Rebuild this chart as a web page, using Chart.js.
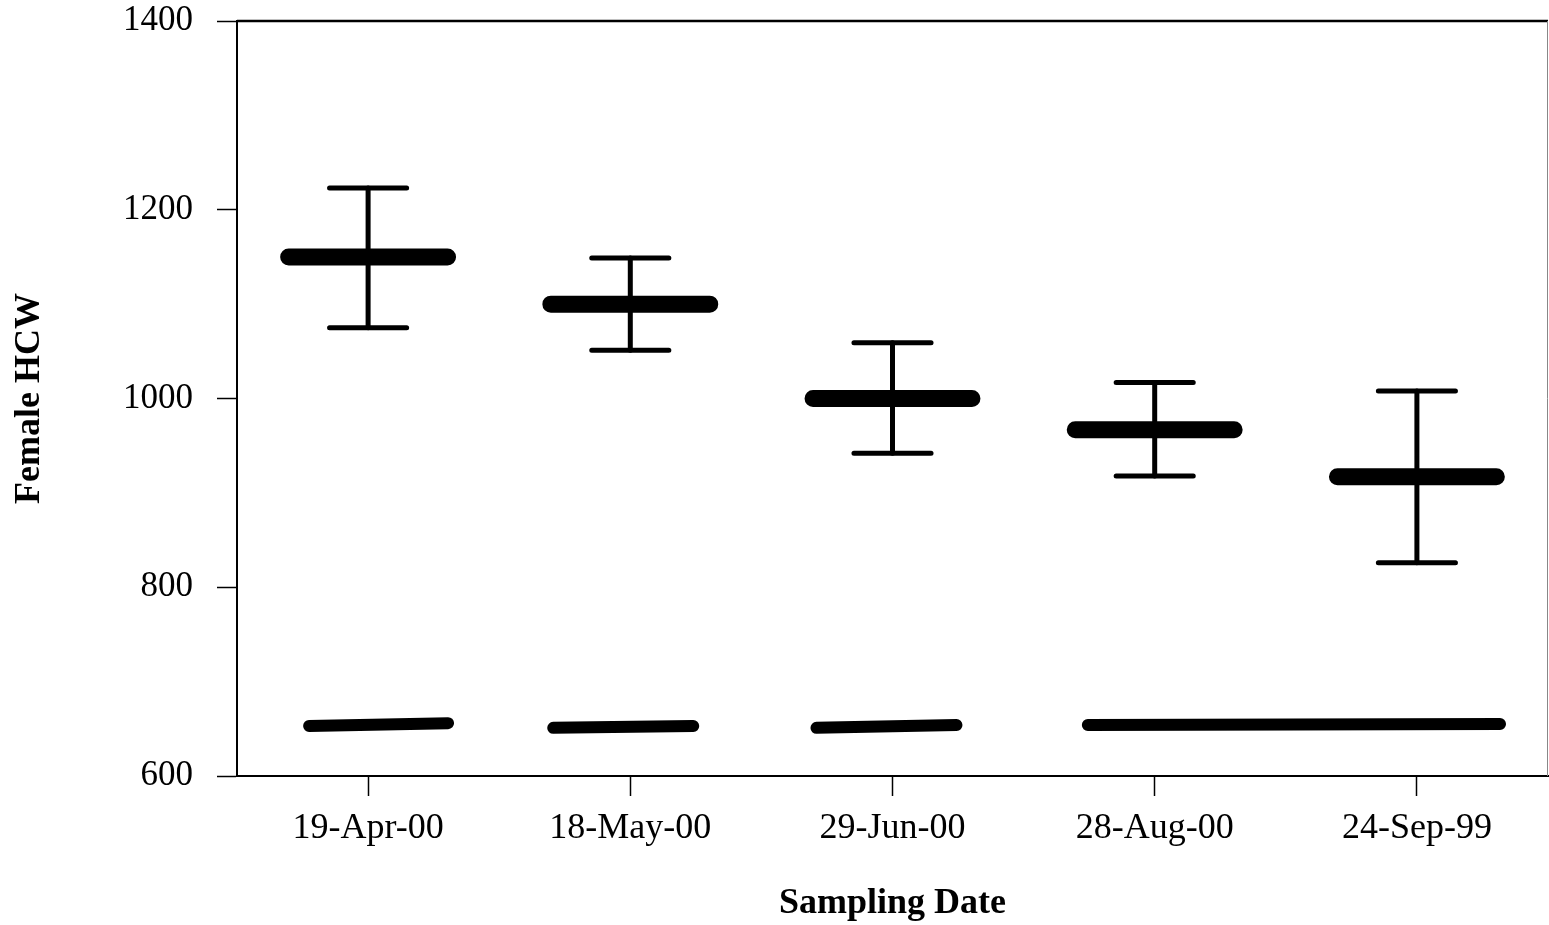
<!DOCTYPE html>
<html>
<head>
<meta charset="utf-8">
<script src="https://cdn.jsdelivr.net/npm/chart.js@4"></script>
<style>
  body { margin: 0; background: #fff; }
  #wrap { width: 1549px; height: 925px; }
</style>
</head>
<body>
<div id="wrap"><canvas id="hcw-chart"></canvas></div>
<script>
var dates = ['19-Apr-00', '18-May-00', '29-Jun-00', '28-Aug-00', '24-Sep-99'];
var meanHCW = [1150, 1100, 1000, 967, 917];
var upperHCW = [1223, 1149, 1059, 1017, 1008];
var lowerHCW = [1075, 1051, 942, 918, 826];
var yTicks = [600, 800, 1000, 1200, 1400];

// grouping lines along the bottom: start/end in category units (1 = first date) and their values
var groupStart = [0.775, 1.706, 2.71, 3.745];
var groupEnd = [1.305, 2.24, 3.244, 5.317];
var groupStartY = [653, 651, 651, 654];
var groupEndY = [656, 653, 654, 655];

var serif = 'Liberation Serif, Times New Roman, serif';

// build broken line data (null between pieces)
function pieces(list) {
    var out = [];
    list.forEach(function (p) {
        out.push(p[0], p[1], { x: p[1].x, y: null });
    });
    return out;
}

var meanPts = pieces(meanHCW.map(function (v, i) {
    return [{ x: i + 1 - 0.303, y: v }, { x: i + 1 + 0.303, y: v }];
}));
var stemPts = pieces(meanHCW.map(function (v, i) {
    return [{ x: i + 1, y: lowerHCW[i] }, { x: i + 1, y: upperHCW[i] }];
}));
var capPts = pieces(meanHCW.map(function (v, i) {
    return [{ x: i + 1 - 0.147, y: upperHCW[i] }, { x: i + 1 + 0.147, y: upperHCW[i] }];
}).concat(meanHCW.map(function (v, i) {
    return [{ x: i + 1 - 0.147, y: lowerHCW[i] }, { x: i + 1 + 0.147, y: lowerHCW[i] }];
})));
var groupPts = pieces(groupStart.map(function (s, i) {
    return [{ x: s, y: groupStartY[i] }, { x: groupEnd[i], y: groupEndY[i] }];
}));

function lineSet(pts, width) {
    return {
        data: pts,
        borderColor: '#000',
        borderWidth: width,
        borderCapStyle: 'round',
        pointRadius: 0,
        spanGaps: false,
        fill: false
    };
}

var frame = {
    id: 'frame',
    afterDraw: function (chart) {
        var a = chart.chartArea, c = chart.ctx;
        c.save();
        c.strokeStyle = '#000';
        c.lineWidth = 2.5;
        c.beginPath();
        c.moveTo(a.left, a.top);
        c.lineTo(a.right, a.top);
        c.stroke();
        c.strokeStyle = '#888';
        c.lineWidth = 1;
        c.beginPath();
        c.moveTo(a.right - 0.5, a.top);
        c.lineTo(a.right - 0.5, a.bottom);
        c.stroke();
        c.restore();
    }
};

var ctx = document.getElementById('hcw-chart').getContext('2d');
var myChart = new Chart(ctx, {
    type: 'line',
    data: {
        datasets: [
            lineSet(groupPts, 12),
            lineSet(stemPts, 5),
            lineSet(capPts, 5),
            lineSet(meanPts, 17)
        ]
    },
    options: {
        responsive: true,
        maintainAspectRatio: false,
        animation: false,
        layout: { autoPadding: false, padding: { top: 21, right: 1, left: 0, bottom: 0 } },
        plugins: { legend: { display: false }, tooltip: { enabled: false } },
        scales: {
            x: {
                type: 'linear',
                min: 0.5,
                max: 5.5,
                afterBuildTicks: function (scale) {
                    scale.ticks = dates.map(function (d, i) { return { value: i + 1 }; });
                },
                afterFit: function (scale) {
                    scale.height = 149;
                    scale.paddingLeft = 0;
                    scale.paddingRight = 0;
                },
                ticks: {
                    callback: function (v) { return dates[v - 1]; },
                    font: { family: serif, size: 36 },
                    color: '#000',
                    padding: 11,
                    maxRotation: 0
                },
                grid: { drawOnChartArea: false, tickLength: 20, tickColor: '#000', tickWidth: 1.5 },
                border: { color: '#000', width: 2 },
                title: {
                    display: true,
                    text: 'Sampling Date',
                    font: { family: serif, size: 36, weight: 'bold' },
                    color: '#000',
                    padding: { top: 0, bottom: 0 }
                }
            },
            y: {
                min: 600,
                max: 1400,
                afterBuildTicks: function (scale) {
                    scale.ticks = yTicks.map(function (v) { return { value: v }; });
                },
                afterFit: function (scale) {
                    scale.width = 237;
                    scale.paddingTop = 0;
                    scale.paddingBottom = 0;
                },
                ticks: {
                    callback: function (v) { return String(v); },
                    font: { family: serif, size: 35 },
                    color: '#000',
                    padding: 24
                },
                grid: { drawOnChartArea: false, tickLength: 20, tickColor: '#000', tickWidth: 1.5 },
                border: { color: '#000', width: 2 },
                title: {
                    display: true,
                    text: 'Female HCW',
                    font: { family: serif, size: 36, weight: 'bold' },
                    color: '#000',
                    padding: { top: 8, bottom: 0 }
                }
            }
        }
    },
    plugins: [frame]
});
</script>
</body>
</html>
